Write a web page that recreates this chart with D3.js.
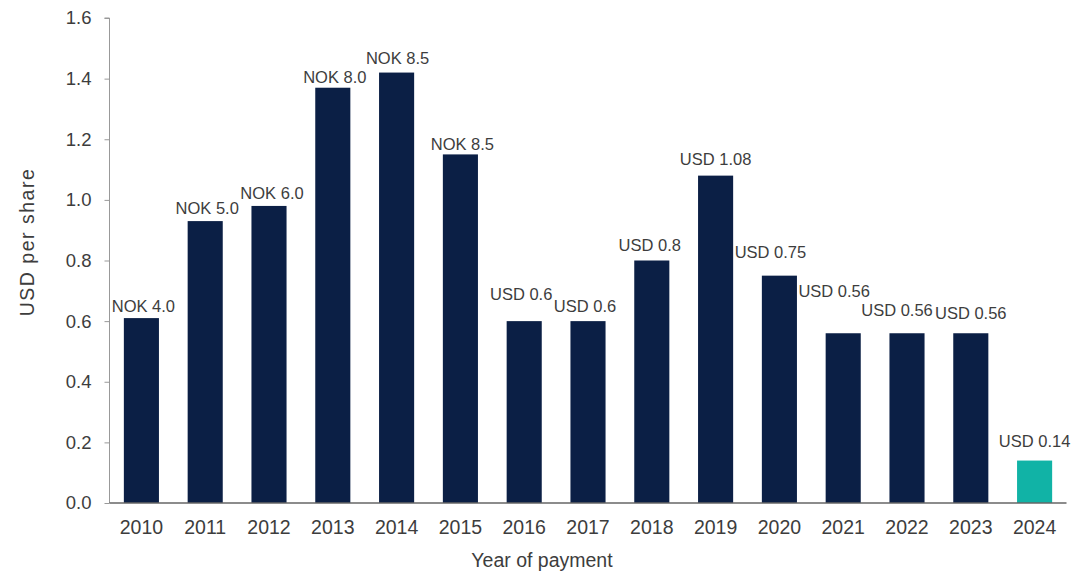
<!DOCTYPE html>
<html>
<head>
<meta charset="utf-8">
<script src="https://cdn.jsdelivr.net/npm/d3@7/dist/d3.min.js"></script>
<style>
  html, body { margin: 0; padding: 0; background: #fff; }
  svg { display: block; font-family: "Liberation Sans", Arial, sans-serif; }
</style>
</head>
<body>
<svg id="chart" width="1073" height="572"></svg>
<script>
// ---- data ----
const years = ["2010","2011","2012","2013","2014","2015","2016","2017","2018","2019","2020","2021","2022","2023","2024"];
const usdPerShare = [0.61, 0.93, 0.98, 1.37, 1.42, 1.15, 0.60, 0.60, 0.80, 1.08, 0.75, 0.56, 0.56, 0.56, 0.14];
const dividendLabels = ["NOK 4.0","NOK 5.0","NOK 6.0","NOK 8.0","NOK 8.5","NOK 8.5","USD 0.6","USD 0.6","USD 0.8","USD 1.08","USD 0.75","USD 0.56","USD 0.56","USD 0.56","USD 0.14"];
const highlightYears = ["2024"];
const yTicks = [0, 0.2, 0.4, 0.6, 0.8, 1.0, 1.2, 1.4, 1.6];

// ---- layout (label nudges as in the original, dx / gap above bar) ----
const labelNudge = [[2,6],[2,7],[3,7],[2,5],[1,9],[2,4],[-3,21],[-3,9],[-2,10],[0,11],[-9,18],[-9,36],[-10,17],[0,14],[0,14]];

const svg = d3.select("#chart");
const plotL = 109.5, plotR = 1066.5, plotT = 18, plotB = 503;

const x = d3.scaleBand().domain(years).range([plotL, plotR]).paddingInner(0.45).paddingOuter(0.225);
const y = d3.scaleLinear().domain([0, 1.6]).range([plotB, plotT]);

const navy = "#0b1f45", teal = "#11b3a6", textCol = "#3d3d3d";

// bars
svg.append("g").selectAll("rect")
  .data(years)
  .join("rect")
  .attr("x", d => x(d))
  .attr("y", (d, i) => y(usdPerShare[i]))
  .attr("width", x.bandwidth())
  .attr("height", (d, i) => y(0) - y(usdPerShare[i]))
  .attr("fill", d => highlightYears.includes(d) ? teal : navy);

// value labels
svg.append("g").selectAll("text")
  .data(years)
  .join("text")
  .attr("x", (d, i) => x(d) + x.bandwidth() / 2 + labelNudge[i][0])
  .attr("y", (d, i) => y(usdPerShare[i]) - labelNudge[i][1])
  .attr("text-anchor", "middle")
  .attr("font-size", 16.5)
  .attr("fill", textCol)
  .text((d, i) => dividendLabels[i]);

// y axis
const yAxis = svg.append("g")
  .attr("transform", `translate(${plotL},0)`)
  .call(d3.axisLeft(y).tickValues(yTicks).tickFormat(d3.format(".1f")).tickSize(5).tickPadding(13));
yAxis.select(".domain").attr("stroke", "#999").attr("d", `M-5,${plotT}H0V${plotB}`);
yAxis.selectAll(".tick line").attr("stroke", "#999");
yAxis.selectAll(".tick text").attr("font-size", 18.5).attr("fill", textCol).attr("font-family", "Liberation Sans, Arial, sans-serif");

// x axis
const xAxis = svg.append("g")
  .attr("transform", `translate(0,${plotB})`)
  .call(d3.axisBottom(x).tickSize(0).tickPadding(17));
xAxis.select(".domain").attr("stroke", "#666").attr("stroke-width", 1.5).attr("d", `M${plotL},0H${plotR}`);
xAxis.selectAll(".tick text").attr("font-size", 19.5).attr("fill", textCol).attr("font-family", "Liberation Sans, Arial, sans-serif");

// axis titles
svg.append("text")
  .attr("x", 542).attr("y", 567)
  .attr("text-anchor", "middle")
  .attr("font-size", 19.5).attr("fill", textCol)
  .text("Year of payment");

svg.append("text")
  .attr("transform", `translate(34,242) rotate(-90)`)
  .attr("text-anchor", "middle")
  .attr("font-size", 19.5).attr("letter-spacing", 1.5).attr("fill", textCol)
  .text("USD per share");
</script>
</body>
</html>
